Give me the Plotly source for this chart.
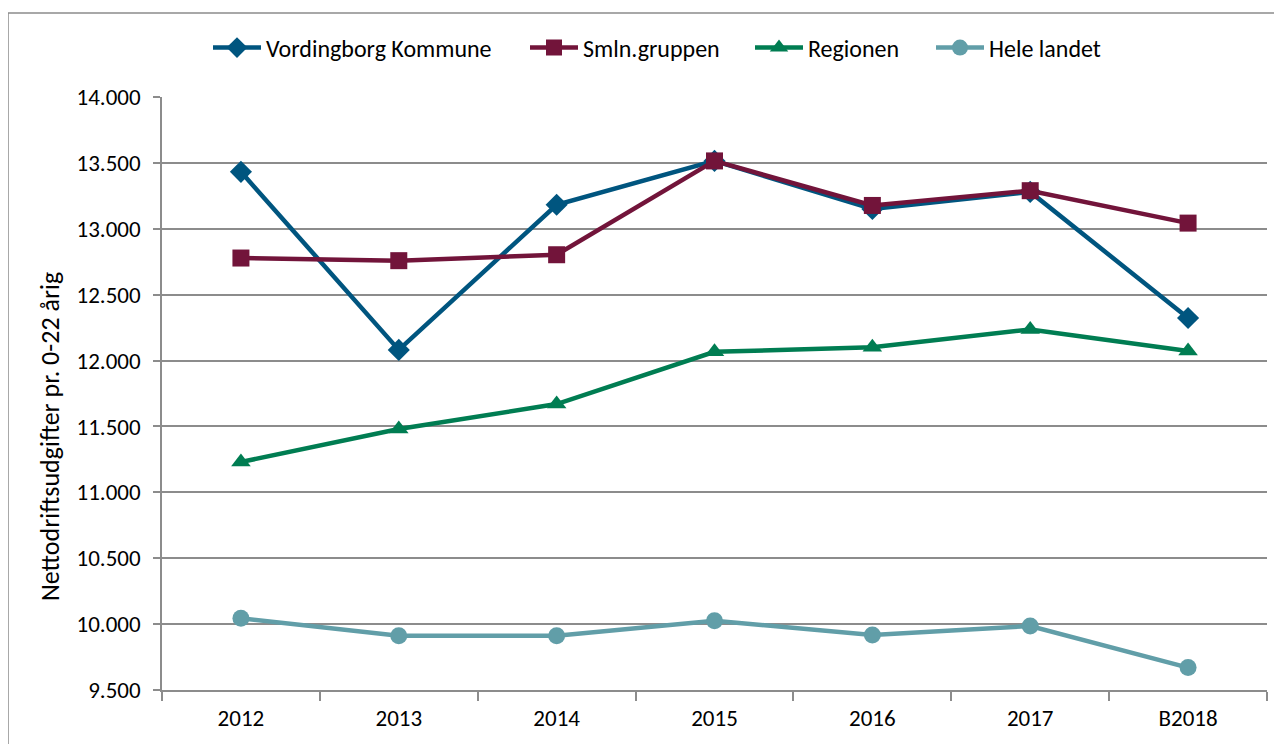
import plotly.graph_objects as go

categories = ["2012", "2013", "2014", "2015", "2016", "2017", "B2018"]
vordingborg = [13432, 12081, 13182, 13515, 13150, 13280, 12323]
smln = [12778, 12758, 12803, 13515, 13177, 13289, 13043]
regionen = [11230, 11480, 11670, 12066, 12101, 12236, 12072]
hele_landet = [10044, 9911, 9911, 10026, 9918, 9986, 9670]

series = [
    ("Vordingborg Kommune", vordingborg, "#00557F", "diamond", 17),
    ("Smln.gruppen", smln, "#72143A", "square", 17),
    ("Regionen", regionen, "#007D52", "triangle-up", 17),
    ("Hele landet", hele_landet, "#619EA8", "circle", 17),
]
legend_x = [208, 525, 750, 931]

FONT = "Carlito, Calibri, 'Liberation Sans', Arial, sans-serif"

OFF = 8  # page body margin
W, H = 1282 - OFF, 744 - OFF
L, T = 162 - OFF, 97 - OFF
R = W - (1267 - OFF)
B = H - (690 - OFF)
pw, ph = W - L - R, H - T - B


def px(xw):
    return (xw - OFF - L) / pw


def py(yw):
    return (H - B - (yw - OFF)) / ph


fig = go.Figure()
legends = {}
for i, (name, vals, color, sym, size) in enumerate(series):
    lg = "legend" if i == 0 else f"legend{i+1}"
    fig.add_trace(go.Scatter(
        x=categories, y=vals, name=name, mode="lines+markers",
        line=dict(color=color, width=4.5),
        marker=dict(symbol=sym, size=size, color=color),
        legend=lg,
    ))
    legends[lg] = dict(orientation="h", x=px(legend_x[i]), xanchor="left",
                       y=py(48), yanchor="middle", bgcolor="rgba(0,0,0,0)",
                       font=dict(size=24), itemwidth=48)

fig.update_layout(
    width=W, height=H,
    margin=dict(l=L, r=R, t=T, b=B),
    paper_bgcolor="white", plot_bgcolor="white",
    separators=",.",
    font=dict(family=FONT, size=23, color="#000000"),
    showlegend=True,
    xaxis=dict(type="category", range=[-0.5, 6.5], showgrid=False,
               showline=True, linecolor="#8C8C8C", linewidth=1.5,
               ticks="outside", tickson="boundaries", ticklen=9,
               tickcolor="#8C8C8C", tickwidth=1.5, ticklabelstandoff=7,
               tickfont=dict(size=23)),
    yaxis=dict(range=[9500, 14000], dtick=500, tickformat=",.0f",
               showgrid=True, gridcolor="#8C8C8C", gridwidth=1.5,
               showline=True, linecolor="#8C8C8C", linewidth=1.5,
               ticks="outside", ticklen=7, tickcolor="#8C8C8C", tickwidth=1.5,
               ticklabelstandoff=8,
               tickfont=dict(size=23), zeroline=False),
    annotations=[dict(
        text="Nettodriftsudgifter pr. 0-22 årig", textangle=-90,
        xref="paper", yref="paper", x=px(50), y=py(437),
        xanchor="center", yanchor="middle", showarrow=False,
        font=dict(size=26, family=FONT))],
    shapes=[dict(type="rect", xref="paper", yref="paper",
                 x0=px(8), x1=px(1280),
                 y0=py(760), y1=py(13),
                 line=dict(color="#8C8C8C", width=1.5), fillcolor="rgba(0,0,0,0)",
                 layer="below")],
)
fig.update_layout(**legends)

fig.write_html("out.html")
